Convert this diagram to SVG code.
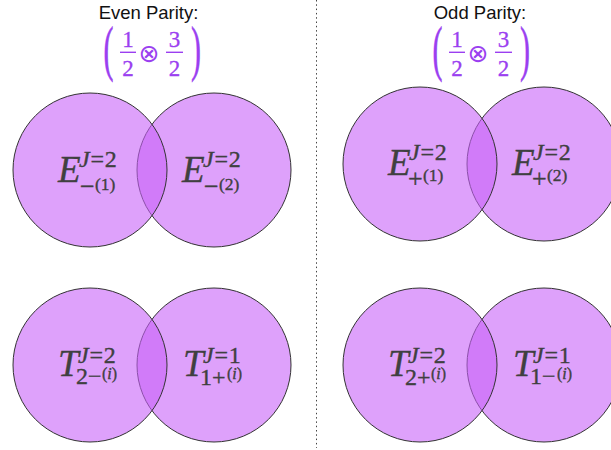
<svg xmlns="http://www.w3.org/2000/svg" width="611" height="450" viewBox="0 0 611 450">
<style>
.hd{font-family:"Liberation Sans",Arial,sans-serif;font-size:18.5px;fill:#111;text-anchor:middle}
.fr{font-family:"Liberation Serif","Times New Roman",serif;font-size:23px;fill:#9b3ff0;text-anchor:middle;stroke:#9b3ff0;stroke-width:0.3}
.ot{font-family:"DejaVu Sans",sans-serif;font-size:25px;fill:#9b3ff0;text-anchor:middle}
.par{font-family:"Liberation Serif","Times New Roman",serif;font-size:30px;fill:#9b3ff0;stroke:#9b3ff0;stroke-width:0.3}
.bar{stroke:#9b3ff0;stroke-width:1.4}
.c{fill:#c862f8;fill-opacity:0.6;stroke:#333;stroke-width:1}
.m{font-family:"Liberation Serif","Times New Roman",serif;fill:#404040;stroke:#404040;stroke-width:0.35}
.b{font-size:37px;font-style:italic}
.sp{font-size:24px;letter-spacing:0.8px}
.sb{font-size:24px}
.sg{font-size:26px}
.ss{font-size:17.5px}
.si{font-size:16px}
.i{font-style:italic}
.div{stroke:#444;stroke-width:1;stroke-dasharray:1.5 2.8}
</style>
<g id="divider"><line class="div" x1="316.5" y1="0" x2="316.5" y2="448"/></g>
<g id="header-even">
<text class="hd" x="148.5" y="18.5">Even Parity:</text>
<g transform="translate(103.6,69.3) scale(1,2.03)"><text class="par" x="0" y="0">(</text></g>
<text class="fr" x="128" y="47">1</text>
<line class="bar" x1="120" y1="52.3" x2="136" y2="52.3"/>
<text class="fr" x="128" y="75.5">2</text>
<text class="ot" x="149" y="62">⊗</text>
<text class="fr" x="174.5" y="47">3</text>
<line class="bar" x1="166" y1="52.3" x2="183" y2="52.3"/>
<text class="fr" x="174.5" y="75.5">2</text>
<g transform="translate(191,69.3) scale(1,2.03)"><text class="par" x="0" y="0">)</text></g>
</g>
<g id="header-odd">
<text class="hd" x="480" y="18.5">Odd Parity:</text>
<g transform="translate(432.6,69.3) scale(1,2.03)"><text class="par" x="0" y="0">(</text></g>
<text class="fr" x="457" y="47">1</text>
<line class="bar" x1="449" y1="52.3" x2="465" y2="52.3"/>
<text class="fr" x="457" y="75.5">2</text>
<text class="ot" x="478" y="62">⊗</text>
<text class="fr" x="503.5" y="47">3</text>
<line class="bar" x1="495" y1="52.3" x2="512" y2="52.3"/>
<text class="fr" x="503.5" y="75.5">2</text>
<g transform="translate(520,69.3) scale(1,2.03)"><text class="par" x="0" y="0">)</text></g>
</g>
<g id="connectors"/>
<g id="node-E-minus-2">
<circle class="c" cx="214" cy="170" r="77"/>
<text class="m b" x="182" y="182">E</text>
<text class="m sp" x="203" y="166.5"><tspan class="i">J</tspan>=2</text>
<text class="m sg" x="204" y="194.5">−</text>
<text class="m ss" x="219" y="189.5">(2)</text>
</g>
<g id="node-E-minus-1">
<circle class="c" cx="90" cy="170" r="77"/>
<text class="m b" x="58" y="182">E</text>
<text class="m sp" x="79" y="166.5"><tspan class="i">J</tspan>=2</text>
<text class="m sg" x="80" y="194.5">−</text>
<text class="m ss" x="95" y="189.5">(1)</text>
</g>
<g id="node-E-plus-2">
<circle class="c" cx="544" cy="164" r="77"/>
<text class="m b" x="512" y="175">E</text>
<text class="m sp" x="533" y="159.5"><tspan class="i">J</tspan>=2</text>
<text class="m sg" x="532" y="186.5">+</text>
<text class="m ss" x="547" y="180.5">(2)</text>
</g>
<g id="node-E-plus-1">
<circle class="c" cx="420" cy="164" r="77"/>
<text class="m b" x="388" y="175">E</text>
<text class="m sp" x="409" y="159.5"><tspan class="i">J</tspan>=2</text>
<text class="m sg" x="408" y="186.5">+</text>
<text class="m ss" x="423" y="180.5">(1)</text>
</g>
<g id="node-T-1plus">
<circle class="c" cx="214" cy="365" r="77"/>
<text class="m b" x="183" y="376">T</text>
<text class="m sp" x="203" y="363"><tspan class="i">J</tspan>=1</text>
<text class="m sb" x="200" y="385">1+</text>
<text class="m si" x="227" y="378.5">(<tspan class="i">i</tspan>)</text>
</g>
<g id="node-T-2minus">
<circle class="c" cx="90" cy="365" r="77"/>
<text class="m b" x="58" y="376">T</text>
<text class="m sp" x="78" y="363"><tspan class="i">J</tspan>=2</text>
<text class="m sb" x="76" y="384">2−</text>
<text class="m si" x="102" y="378.5">(<tspan class="i">i</tspan>)</text>
</g>
<g id="node-T-1minus">
<circle class="c" cx="544" cy="365" r="77"/>
<text class="m b" x="513" y="376">T</text>
<text class="m sp" x="533" y="363"><tspan class="i">J</tspan>=1</text>
<text class="m sb" x="530" y="384">1−</text>
<text class="m si" x="557" y="378.5">(<tspan class="i">i</tspan>)</text>
</g>
<g id="node-T-2plus">
<circle class="c" cx="420" cy="365" r="77"/>
<text class="m b" x="388" y="376">T</text>
<text class="m sp" x="408" y="363"><tspan class="i">J</tspan>=2</text>
<text class="m sb" x="405" y="385">2+</text>
<text class="m si" x="431" y="378.5">(<tspan class="i">i</tspan>)</text>
</g>
</svg>
